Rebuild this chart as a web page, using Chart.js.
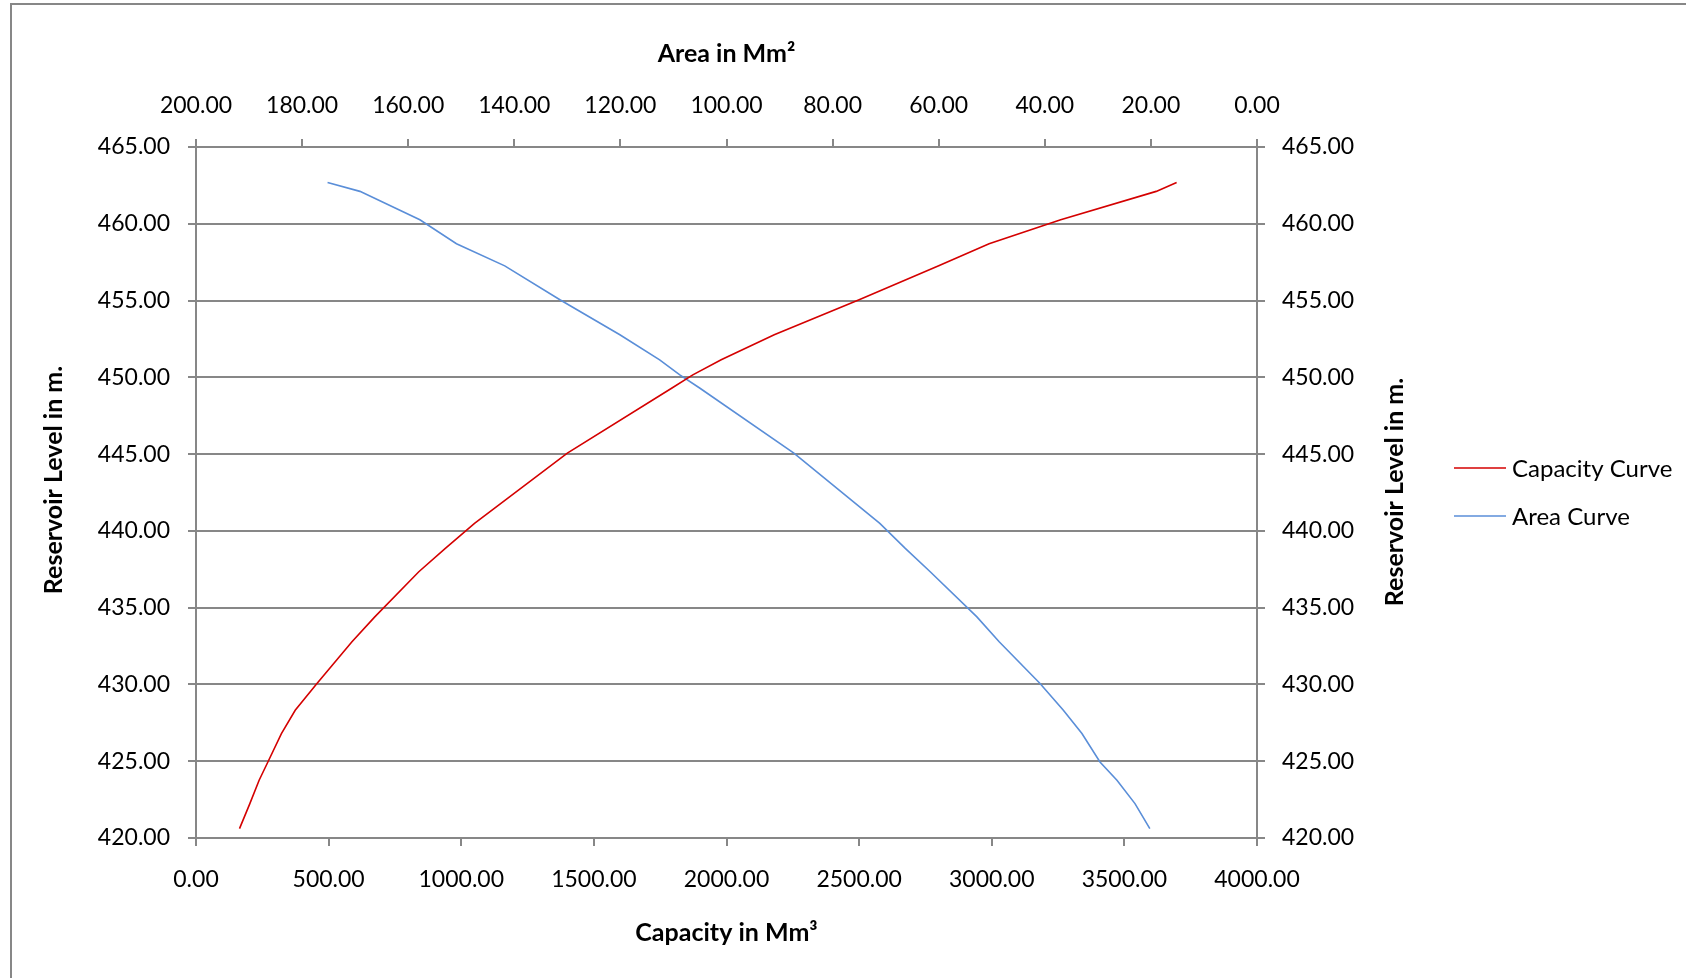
<!DOCTYPE html>
<html>
<head>
<meta charset="utf-8">
<script src="https://cdn.jsdelivr.net/npm/chart.js@4.4.1/dist/chart.umd.min.js"></script>
<style>
  html, body { margin: 0; padding: 0; background: #ffffff; overflow: hidden; }
  #frame { position: absolute; left: 10px; top: 3px; width: 1800px; height: 1100px; border: 2px solid #878787; }
  #wrap { position: absolute; left: 0; top: 0; width: 1686px; height: 978px; }
</style>
</head>
<body>
<div id="frame"></div>
<div id="wrap"><canvas id="c" width="1686" height="978"></canvas></div>
<script>
// ---- data ----
const levels = [420.61, 422.24, 423.76, 424.95, 426.80, 428.32, 430.06, 432.78, 434.40, 437.34, 438.86, 440.49, 445.06, 449.29, 450.16, 451.14, 452.77, 455.05, 457.26, 458.70, 460.26, 462.11, 462.69];
const capacity = [164, 203, 238, 271, 322, 374, 456, 588, 674, 840, 940, 1050, 1400, 1793, 1873, 1980, 2180, 2500, 2800, 2990, 3260, 3620, 3697];
const area = [20.2, 23.0, 26.4, 29.6, 33.0, 36.5, 40.9, 48.6, 52.8, 61.6, 66.3, 71.1, 87.3, 105.0, 108.8, 112.6, 120.1, 131.4, 141.8, 150.9, 157.8, 169.1, 175.2];
const seriesNames = ['Capacity Curve', 'Area Curve'];
const capacityTicks = { min: 0, max: 4000, step: 500 };
const areaTicks = { min: 0, max: 200, step: 20 };
const levelTicks = { min: 420, max: 465, step: 5 };
const titles = { top: 'Area in Mm\u00B2', bottom: 'Capacity in Mm\u00B3', left: 'Reservoir Level in m.', right: 'Reservoir Level in m.' };

const GRAY = '#878787';
const FONT = 'Lato';
Chart.defaults.font.family = FONT;
Chart.defaults.color = '#000000';

const capPoints = levels.map((l, i) => ({ x: capacity[i], y: l }));
const areaPoints = levels.map((l, i) => ({ x: area[i], y: l }));

const tickFont = { family: FONT, size: 23 };
const titleFont = { family: FONT, size: 25, weight: 'bold' };
const fmt = v => Number(v).toFixed(2);

const sidePlugin = {
  id: 'sidePlugin',
  afterDraw(chart) {
    const ctx = chart.ctx;
    ctx.save();
    ctx.fillStyle = '#000000';
    ctx.font = 'bold 25px ' + FONT;
    ctx.textAlign = 'center';
    ctx.textBaseline = 'middle';
    // left vertical title
    ctx.save();
    ctx.translate(54, 480);
    ctx.rotate(-Math.PI / 2);
    ctx.fillText(titles.left, 0, 0);
    ctx.restore();
    // right vertical title
    ctx.save();
    ctx.translate(1395, 492);
    ctx.rotate(-Math.PI / 2);
    ctx.fillText(titles.right, 0, 0);
    ctx.restore();
    // legend
    const legendY = [468, 516];
    ctx.font = '24px ' + FONT;
    ctx.textAlign = 'left';
    chart.data.datasets.forEach((ds, i) => {
      ctx.strokeStyle = ds.borderColor;
      ctx.lineWidth = 1.5;
      ctx.beginPath();
      ctx.moveTo(1454, legendY[i]);
      ctx.lineTo(1506, legendY[i]);
      ctx.stroke();
      ctx.fillText(ds.label, 1512, legendY[i] + 1);
    });
    ctx.restore();
  }
};

new Chart(document.getElementById('c'), {
  type: 'line',
  data: {
    datasets: [
      { label: seriesNames[0], data: capPoints, xAxisID: 'x', yAxisID: 'y', borderColor: '#D40000', backgroundColor: '#D40000', borderWidth: 1.6, pointRadius: 0, tension: 0, fill: false },
      { label: seriesNames[1], data: areaPoints, xAxisID: 'x2', yAxisID: 'y', borderColor: '#5A8ED8', backgroundColor: '#5A8ED8', borderWidth: 1.6, pointRadius: 0, tension: 0, fill: false }
    ]
  },
  options: {
    responsive: false,
    animation: false,
    events: [],
    layout: { padding: 0 },
    plugins: { legend: { display: false }, tooltip: { enabled: false } },
    scales: {
      x: {
        type: 'linear', position: 'bottom',
        min: capacityTicks.min, max: capacityTicks.max,
        ticks: { stepSize: capacityTicks.step, callback: fmt, font: tickFont, color: '#000', padding: 20, maxRotation: 0 },
        grid: { drawOnChartArea: false, drawTicks: true, tickLength: 8, color: GRAY, lineWidth: 2 },
        border: { display: true, color: GRAY, width: 2 },
        title: { display: true, text: titles.bottom, font: titleFont, color: '#000', padding: { top: 0, bottom: 30 } },
        afterFit(s) { s.height = 140; }
      },
      x2: {
        type: 'linear', position: 'top', reverse: true,
        min: areaTicks.min, max: areaTicks.max,
        ticks: { stepSize: areaTicks.step, callback: fmt, font: tickFont, color: '#000', padding: 20, maxRotation: 0 },
        grid: { drawOnChartArea: false, drawTicks: true, tickLength: 8, color: GRAY, lineWidth: 2 },
        border: { display: true, color: GRAY, width: 2 },
        title: { display: true, text: titles.top, font: titleFont, color: '#000', padding: { top: 39, bottom: 0 } },
        afterFit(s) { s.height = 147; }
      },
      y: {
        type: 'linear', position: 'left',
        min: levelTicks.min, max: levelTicks.max,
        ticks: { stepSize: levelTicks.step, callback: fmt, font: tickFont, color: '#000', padding: 18 },
        grid: { drawOnChartArea: true, drawTicks: true, tickLength: 8, color: GRAY, lineWidth: 2 },
        border: { display: true, color: GRAY, width: 2 },
        afterFit(s) { s.width = 196; }
      },
      y2: {
        type: 'linear', position: 'right',
        min: levelTicks.min, max: levelTicks.max,
        ticks: { stepSize: levelTicks.step, callback: fmt, font: tickFont, color: '#000', padding: 17 },
        grid: { drawOnChartArea: false, drawTicks: true, tickLength: 8, color: GRAY, lineWidth: 2 },
        border: { display: true, color: GRAY, width: 2 },
        afterFit(s) { s.width = 429; }
      }
    }
  },
  plugins: [sidePlugin]
});
</script>
</body>
</html>
